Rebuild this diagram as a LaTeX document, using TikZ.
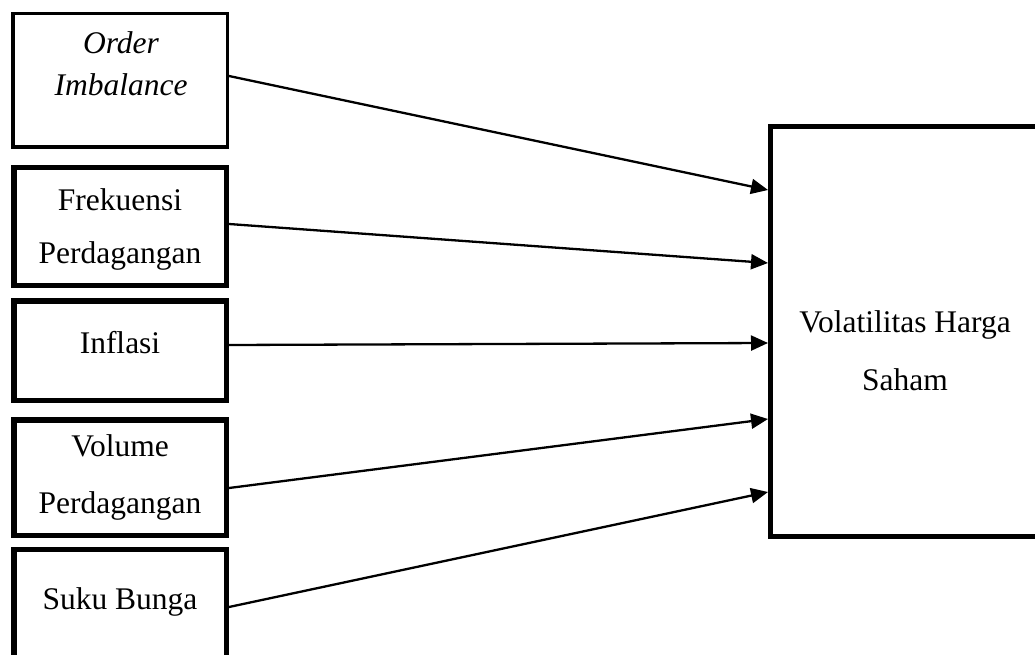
\documentclass[tikz,border=0pt]{standalone}
\usepackage{fontspec}
\setmainfont{Liberation Serif}
\usetikzlibrary{arrows.meta}
\tikzset{
  thinbox/.style={draw=black, line width=3.5pt, inner sep=0pt, minimum width=214.5pt},
  thickbox/.style={draw=black, line width=5.5pt, inner sep=0pt, minimum width=212.5pt},
  lbl/.style={anchor=base, inner sep=0pt, font=\fontsize{31.5}{37}\selectfont},
  arr/.style={line width=2.3pt, -{Triangle[length=17pt, width=15pt]}}
}
\begin{document}
\begin{tikzpicture}[x=1pt, y=-1pt]
  \clip (0,0) rectangle (1035,655);
  \fill[white] (0,0) rectangle (1035,655);

  % independent variables
  \node[thinbox,  minimum height=133.5pt] (b1) at (120,80.5) {};
  \node[thickbox, minimum height=117.5pt] (b2) at (120,226.5) {};
  \node[thickbox, minimum height=99.5pt]  (b3) at (120,350.5) {};
  \node[thickbox, minimum height=115.5pt] (b4) at (120,477.5) {};
  \node[thickbox, minimum height=115.5pt] (b5) at (120,607) {};

  % dependent variable
  \node[draw=black, line width=5pt, inner sep=0pt, minimum width=269pt, minimum height=410pt] (vol) at (905,331.5) {};

  % labels
  \node[lbl] (t1a) at (121,54) {\itshape Order};
  \node[lbl] (t1b) at (121,96) {\itshape Imbalance};
  \node[lbl] (t2a) at (120,210) {Frekuensi};
  \node[lbl] (t2b) at (120,263) {Perdagangan};
  \node[lbl] (t3)  at (120,353) {Inflasi};
  \node[lbl] (t4a) at (120,456) {Volume};
  \node[lbl] (t4b) at (120,513) {Perdagangan};
  \node[lbl] (t5)  at (120,609) {Suku Bunga};
  \node[lbl] (tva) at (905,332) {Volatilitas Harga};
  \node[lbl] (tvb) at (905,390) {Saham};

  % influences
  \draw[arr] (b1.east |- 0,76)  -- (vol.west |- 0,190);
  \draw[arr] (b2.east |- 0,224) -- (vol.west |- 0,263);
  \draw[arr] (b3.east |- 0,345) -- (vol.west |- 0,343);
  \draw[arr] (b4.east |- 0,488) -- (vol.west |- 0,419);
  \draw[arr] (b5.east |- 0,607) -- (vol.west |- 0,492);
\end{tikzpicture}
\end{document}
